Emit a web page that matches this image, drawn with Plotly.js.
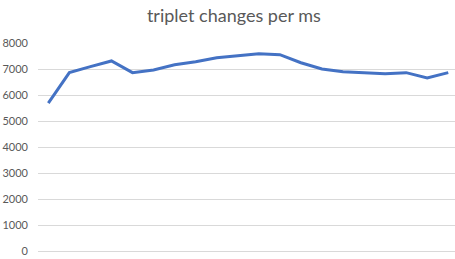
<!DOCTYPE html>
<html><head><meta charset="utf-8">
<script src="https://cdn.plot.ly/plotly-3.0.1.min.js"></script>
<style>html,body{margin:0;padding:0;background:#fff}#chart{width:455px;height:259px}</style>
</head><body><div id="chart"></div>
<script>
const categories = [1,2,3,4,5,6,7,8,9,10,11,12,13,14,15,16,17,18,19,20];
const tripletChanges = [5690,6860,7090,7310,6860,6960,7160,7280,7430,7510,7590,7550,7240,7000,6890,6860,6820,6860,6660,6860];
const yTicks = [0,1000,2000,3000,4000,5000,6000,7000,8000];
const titleText = "triplet changes per ms";

Plotly.newPlot('chart', [{
  x: categories.map((c,i)=>i),
  y: tripletChanges,
  type: 'scatter', mode: 'lines',
  line: {color: '#4472C4', width: 3},
  hoverinfo: 'none'
}], {
  width: 455, height: 259,
  margin: {l: 38, r: 0, t: 43, b: 8},
  paper_bgcolor: '#fff', plot_bgcolor: '#fff',
  showlegend: false,
  title: {text: titleText, font: {family: 'Lato, "Open Sans", sans-serif', size: 18, color: '#595959'}, x: 0.514, xanchor: 'center', y: 0.94, yanchor: 'middle'},
  xaxis: {range: [-0.49, 19.32], showgrid: false, zeroline: false, showline: false, showticklabels: false, ticks: ''},
  yaxis: {range: [0, 8000], tickvals: yTicks, ticktext: yTicks.map(String), showgrid: true, gridcolor: '#D9D9D9', gridwidth: 1,
          zeroline: true, zerolinecolor: '#D9D9D9', zerolinewidth: 1, showline: false, ticks: '', ticklabelstandoff: 9,
          tickfont: {family: 'Lato, "Open Sans", sans-serif', size: 11, color: '#595959'}}
}, {staticPlot: true, displayModeBar: false});
</script></body></html>
